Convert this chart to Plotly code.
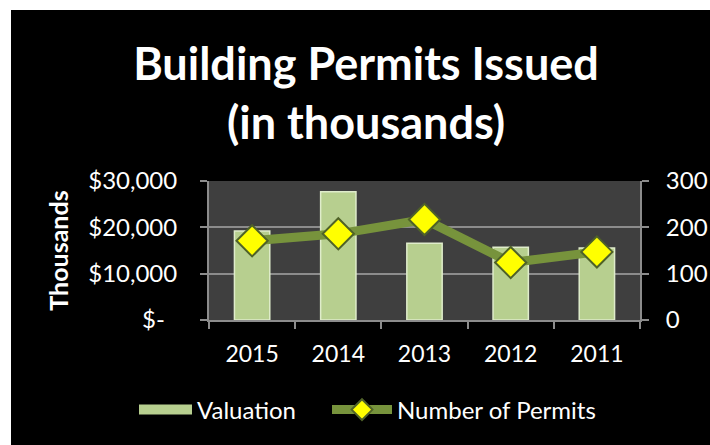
import plotly.graph_objects as go

years = ["2015", "2014", "2013", "2012", "2011"]
valuation = [19200, 27700, 16550, 15700, 15550]
permits = [171, 186, 217, 124, 147]
y_tickvals = [0, 10000, 20000, 30000]
y_ticktext = ["$-  ", "$10,000", "$20,000", "$30,000"]
y2_tickvals = [0, 100, 200, 300]

W, H = 710, 445
L, R, T, B = 209, 70, 181, 125
pw, ph = W - L - R, H - T - B

def px(x):
    return (x - L) / pw

def py(y):
    return (H - B - y) / ph

FONT = "Lato"
BAR_COL = "#b7cf8f"
LINE_COL = "#77933c"

fig = go.Figure()
fig.add_trace(go.Bar(
    x=years, y=valuation, name="Valuation",
    marker=dict(color=BAR_COL, line=dict(color="#dfeccb", width=1.5)),
    width=0.41, yaxis="y", showlegend=False, legendgroup="val",
))
# legend entry for the Valuation bars (wide swatch as in the original)
fig.add_trace(go.Scatter(
    x=[None], y=[None], name="Valuation", mode="lines",
    line=dict(color=BAR_COL, width=12), legend="legend", legendgroup="val",
))
fig.add_trace(go.Scatter(
    x=years, y=permits, name="Number of Permits", mode="lines+markers",
    line=dict(color=LINE_COL, width=9),
    marker=dict(symbol="diamond", size=24, color="#ffff00",
                line=dict(color="#4f6228", width=2)),
    yaxis="y2", legend="legend2",
))

axis_col = "#8c8c8c"
fig.update_layout(
    width=W, height=H,
    margin=dict(l=L, r=R, t=T, b=B, autoexpand=False),
    paper_bgcolor="#000000",
    plot_bgcolor="#3f3f3f",
    font=dict(family=FONT, color="#ffffff", size=22),
    showlegend=True,
    title=dict(text="<b>Building Permits Issued<br>(in thousands)</b>",
               x=px(366), xref="paper", xanchor="center",
               y=1 - 80 / H, yref="container", yanchor="middle",
               font=dict(family=FONT, size=45, color="#ffffff")),
    xaxis=dict(type="category", showgrid=False, showline=True, linecolor=axis_col,
               linewidth=2, ticks="outside", tickson="boundaries", ticklen=7,
               tickcolor=axis_col, tickwidth=2, ticklabelstandoff=12,
               tickfont=dict(size=23, color="#ffffff"), range=[-0.5, 4.5]),
    yaxis=dict(range=[0, 30000], tickvals=y_tickvals, ticktext=y_ticktext,
               showgrid=True, gridcolor=axis_col, gridwidth=2,
               showline=True, linecolor=axis_col, linewidth=2,
               ticks="outside", ticklen=7, tickcolor=axis_col, tickwidth=2,
               zeroline=False, tickfont=dict(size=24, color="#ffffff"),
               ticklabelstandoff=18,
               title=dict(text="<b>Thousands</b>", standoff=12,
                          font=dict(size=25, color="#ffffff"))),
    yaxis2=dict(range=[0, 300], tickvals=y2_tickvals, overlaying="y", side="right",
                showgrid=False, showline=True, linecolor=axis_col, linewidth=2,
                ticks="outside", ticklen=7, tickcolor=axis_col, tickwidth=2,
                zeroline=False, tickfont=dict(size=24, color="#ffffff"),
                ticklabelstandoff=12),
    legend=dict(orientation="h", x=px(134), xanchor="left", y=py(410),
                yanchor="middle", font=dict(size=24, color="#ffffff"),
                bgcolor="rgba(0,0,0,0)", itemwidth=53),
    legend2=dict(orientation="h", x=px(327), xanchor="left", y=py(410),
                 yanchor="middle", font=dict(size=24, color="#ffffff"),
                 bgcolor="rgba(0,0,0,0)", itemwidth=60),
    shapes=[
        dict(type="rect", xref="paper", yref="paper", x0=px(0), x1=px(W),
             y0=py(10), y1=py(0), fillcolor="#ffffff", line=dict(width=0),
             layer="below"),
        dict(type="rect", xref="paper", yref="paper", x0=px(0), x1=px(11),
             y0=py(H), y1=py(0), fillcolor="#ffffff", line=dict(width=0),
             layer="below"),
    ],
)

fig.write_html(
    "out.html",
    config={"displayModeBar": False},
    post_script="document.body.style.margin='0';document.body.style.overflow='hidden';",
)
